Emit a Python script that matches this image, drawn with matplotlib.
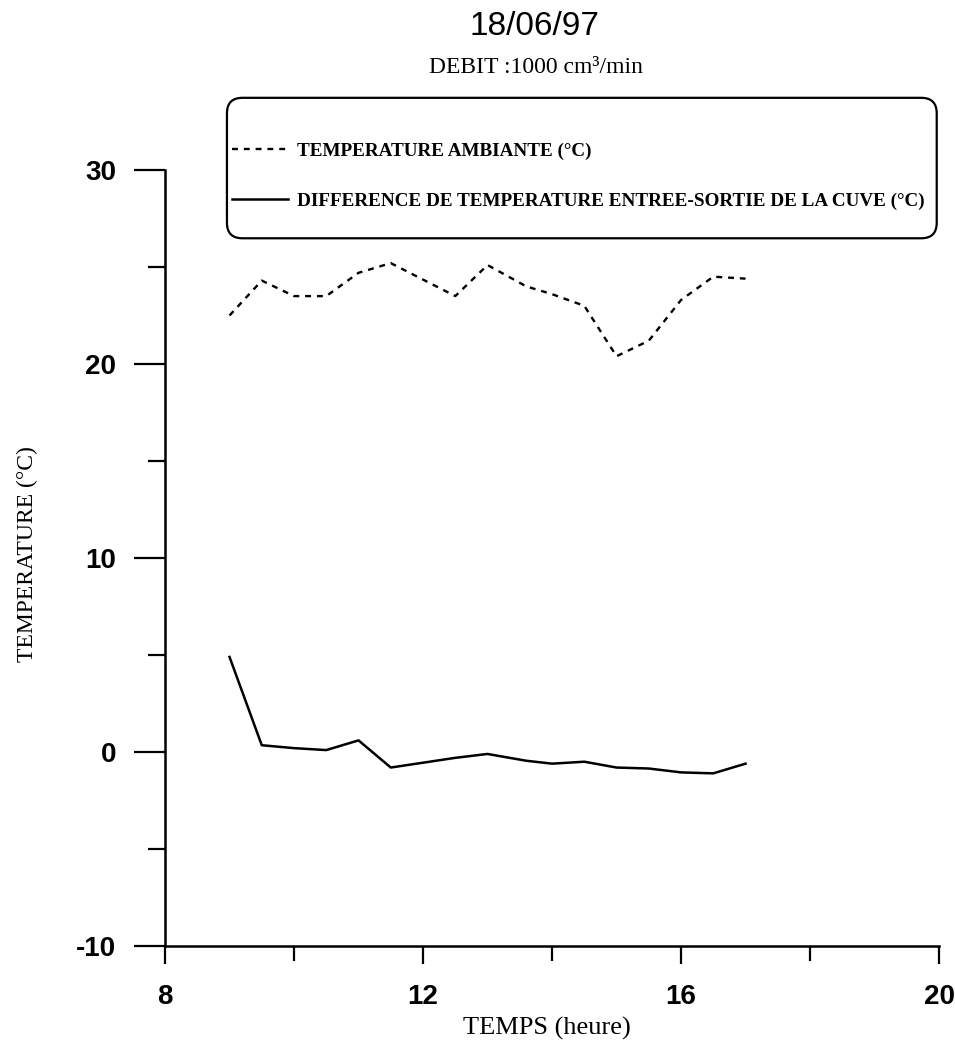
import matplotlib
matplotlib.use("Agg")
import matplotlib.pyplot as plt
from matplotlib.ticker import MultipleLocator
from matplotlib.patches import FancyBboxPatch

# heures de mesure
temps = [9.0, 9.5, 10.0, 10.5, 11.0, 11.5, 12.5, 13.0, 13.6, 14.0, 14.5, 15.0, 15.5, 16.0, 16.5, 17.0]
# temperature ambiante (C)
t_ambiante = [22.5, 24.3, 23.5, 23.5, 24.7, 25.2, 23.5, 25.1, 24.0, 23.6, 23.0, 20.4, 21.2, 23.3, 24.5, 24.4]
# difference entree-sortie de la cuve (C)
t_difference = [4.9, 0.35, 0.2, 0.1, 0.6, -0.8, -0.3, -0.1, -0.45, -0.6, -0.5, -0.8, -0.85, -1.05, -1.1, -0.6]

x_ticks = [8, 12, 16, 20]
y_ticks = [-10, 0, 10, 20, 30]

plt.rcParams["axes.unicode_minus"] = False
sans = ["Liberation Sans", "DejaVu Sans"]
serif = ["Liberation Serif", "DejaVu Serif"]

fig = plt.figure(figsize=(9.55, 10.48), dpi=100)
ax = fig.add_axes([0.1728, 0.0973, 0.8105, 0.7405])

ax.plot(temps, t_ambiante, color="black", lw=1.7, linestyle=(0, (2.5, 2.5)),
        label="TEMPERATURE AMBIANTE (°C)")
ax.plot(temps, t_difference, color="black", lw=1.8,
        label="DIFFERENCE DE TEMPERATURE ENTREE-SORTIE DE LA CUVE (°C)")

ax.set_xlim(8, 20)
ax.set_ylim(-10, 30)
ax.set_xticks(x_ticks)
ax.set_yticks(y_ticks)
ax.xaxis.set_minor_locator(MultipleLocator(2))
ax.yaxis.set_minor_locator(MultipleLocator(5))

for side in ["top", "right"]:
    ax.spines[side].set_visible(False)
for side in ["left", "bottom"]:
    ax.spines[side].set_linewidth(1.8)

ax.tick_params(axis="x", which="major", direction="out", length=13, width=1.6, pad=14)
ax.tick_params(axis="x", which="minor", direction="out", length=11, width=1.6)
ax.tick_params(axis="y", which="major", direction="out", length=22, width=1.6, pad=13)
ax.tick_params(axis="y", which="minor", direction="out", length=12, width=1.6)
for lab in ax.get_xticklabels() + ax.get_yticklabels():
    lab.set_family(sans)
    lab.set_fontweight("bold")
    lab.set_fontsize(20)

# titres
fig.text(0.56, 0.975, "18/06/97", ha="center", va="center", fontsize=24, family=sans)
fig.text(0.561, 0.936, "DEBIT :1000 cm³/min", ha="center", va="center", fontsize=17, family=serif)
fig.text(0.029, 0.471, "TEMPERATURE (°C)", rotation=90, ha="center", va="center",
         fontsize=17, family=serif)
fig.text(0.573, 0.019, "TEMPS (heure)", ha="center", va="center", fontsize=19, family=serif)

# legende dans un cadre arrondi
leg = ax.legend(loc="center left", bbox_to_anchor=(0.0866, 0.992),
                prop={"family": serif, "weight": "bold", "size": 13.8},
                frameon=False, handlelength=2.9, handletextpad=0.5,
                borderpad=0, labelspacing=1.7, borderaxespad=0)
cadre = FancyBboxPatch((0.080, 0.912), 0.917, 0.181, transform=ax.transAxes,
                       boxstyle="round,pad=0,rounding_size=0.02",
                       facecolor="white", edgecolor="black", lw=1.6, clip_on=False, zorder=4)
ax.add_patch(cadre)
leg.set_zorder(5)

fig.savefig("out.png", dpi=100)
